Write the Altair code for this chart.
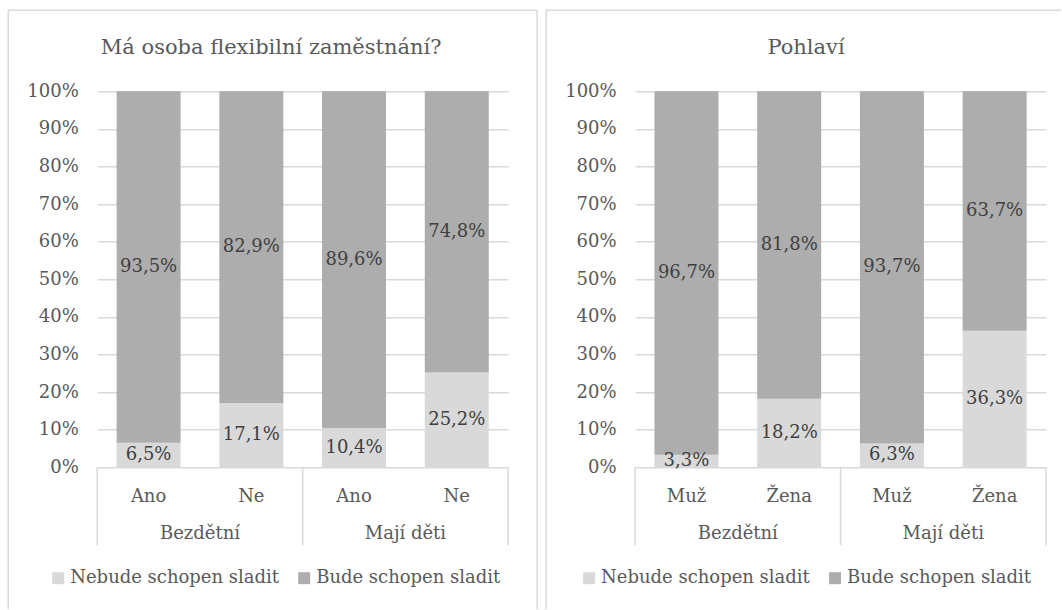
import altair as alt
import pandas as pd

# Series (stacked bottom -> top) and their fills
series_names = ["Nebude schopen sladit", "Bude schopen sladit"]
series_colors = ["#d9d9d9", "#adadad"]

# Outer category level shared by both panels
groups = ["Bezdětní", "Bezdětní", "Mají děti", "Mají děti"]

# Left panel
left_title = "Má osoba flexibilní zaměstnání?"
left_subs = ["Ano", "Ne", "Ano", "Ne"]
left_nebude = [6.5, 17.1, 10.4, 25.2]
left_bude = [93.5, 82.9, 89.6, 74.8]

# Right panel
right_title = "Pohlaví"
right_subs = ["Muž", "Žena", "Muž", "Žena"]
right_nebude = [3.3, 18.2, 6.3, 36.3]
right_bude = [96.7, 81.8, 93.7, 63.7]

y_ticks = list(range(0, 101, 10))

FONT = "DejaVu Serif"
TXT = "#595959"
LBL = "#404040"
LINE = "#d9d9d9"
W, H = 411, 376
PAD = 0.377
STEP = W / 4
HALF_GAP = STEP * PAD / 2  # distance from a band edge to the category boundary


def panel(title, subs, nebude, bude, title_x, legend_x, right_edge):
    keys = [f"{g}|{s}" for g, s in zip(groups, subs)]
    rows = []
    for k, a, b in zip(keys, nebude, bude):
        rows.append({"key": k, "series": series_names[0], "value": a, "order": 0})
        rows.append({"key": k, "series": series_names[1], "value": b, "order": 1})
    df = pd.DataFrame(rows)

    x_scale = alt.Scale(paddingInner=PAD, paddingOuter=PAD / 2)
    x_axis = alt.Axis(
        title=None, labelExpr="split(datum.value, '|')[1]", labelAngle=0,
        labelPadding=34, labelBaseline="alphabetic", ticks=False, domain=False,
        grid=False, labelFontSize=18, labelColor=TXT, labelFont=FONT,
    )
    y_scale = alt.Scale(domain=[0, 100], nice=False)
    y_axis = alt.Axis(
        title=None, values=y_ticks, labelExpr="datum.value + '%'",
        grid=True, gridColor=LINE, gridWidth=1.5, domain=False, ticks=False,
        labelPadding=19, labelFontSize=18, labelColor=TXT, labelFont=FONT,
    )

    def xenc(**kw):
        return alt.X("key:N", sort=keys, scale=x_scale, axis=x_axis, **kw)

    stacked = alt.Chart(df).transform_stack(
        stack="value", groupby=["key"], as_=["y0", "y1"],
        sort=[alt.SortField("order", order="ascending")],
    )

    bars = stacked.mark_bar().encode(
        x=xenc(),
        y=alt.Y("y0:Q", scale=y_scale, axis=y_axis),
        y2="y1:Q",
        color=alt.Color(
            "series:N",
            scale=alt.Scale(domain=series_names, range=series_colors),
            legend=alt.Legend(
                orient="none", legendX=legend_x, legendY=478,
                direction="horizontal", title=None, symbolType="square",
                symbolSize=144, symbolStrokeWidth=0, labelFontSize=18,
                labelColor=TXT, labelFont=FONT, labelLimit=400,
                columnPadding=16, labelOffset=3, padding=0,
            ),
        ),
    )

    labels = stacked.transform_calculate(
        mid="(datum.y0 + datum.y1) / 2",
        txt="replace(format(datum.value, '.1f'), '.', ',') + '%'",
    ).mark_text(baseline="middle", fontSize=18, color=LBL, font=FONT).encode(
        x=xenc(),
        y=alt.Y("mid:Q", scale=y_scale, axis=y_axis),
        text="txt:N",
    )

    # Outer category labels, centred between the two bars of each group
    grp_df = pd.DataFrame({"key": [keys[0], keys[2]], "group": [groups[0], groups[2]]})
    grp_labels = alt.Chart(grp_df).mark_text(
        baseline="alphabetic", fontSize=18, color=TXT, font=FONT, dx=HALF_GAP
    ).encode(x=xenc(bandPosition=1), y=alt.value(448), text="group:N")

    # Vertical separators of the two-level category axis (group boundaries)
    one = pd.DataFrame({"a": [0]})
    seps = [
        alt.Chart(one).mark_rule(color=LINE, strokeWidth=1.5).encode(
            x=alt.value(xv), y=alt.value(H), y2=alt.value(454)
        )
        for xv in (0, W / 2, W)
    ]

    title_df = pd.DataFrame({"t": [title]})
    title_mark = alt.Chart(title_df).mark_text(
        baseline="alphabetic", fontSize=21, color=TXT, font=FONT
    ).encode(x=alt.value(title_x), y=alt.value(-37), text="t:N")

    # Panel frame
    frame = [
        alt.Chart(one).mark_rule(color=LINE, strokeWidth=1.5).encode(
            x=alt.value(-89), x2=alt.value(right_edge), y=alt.value(-81)
        ),
        alt.Chart(one).mark_rule(color=LINE, strokeWidth=1.5).encode(
            x=alt.value(-89), y=alt.value(-81), y2=alt.value(518)
        ),
    ]
    if right_edge >= 430:
        frame.append(
            alt.Chart(one).mark_rule(color=LINE, strokeWidth=1.5).encode(
                x=alt.value(right_edge), y=alt.value(-81), y2=alt.value(518)
            )
        )

    return alt.layer(
        *frame, bars, labels, *seps, grp_labels, title_mark
    ).properties(width=W, height=H)


left = panel(left_title, left_subs, left_nebude, left_bude, 174, -48, 440)
right = panel(right_title, right_subs, right_nebude, right_bude, 171, -55, 426)

chart = (
    alt.hconcat(left, right, spacing=127, bounds="flush")
    .resolve_scale(color="independent", x="independent", y="independent")
    .resolve_legend(color="independent")
    .properties(padding={"left": 7.25, "top": 9.25, "right": 0, "bottom": 0})
    .configure(font=FONT)
    .configure_view(stroke=None)
)

chart.save("out.html", embed_options={"renderer": "svg", "actions": False})
